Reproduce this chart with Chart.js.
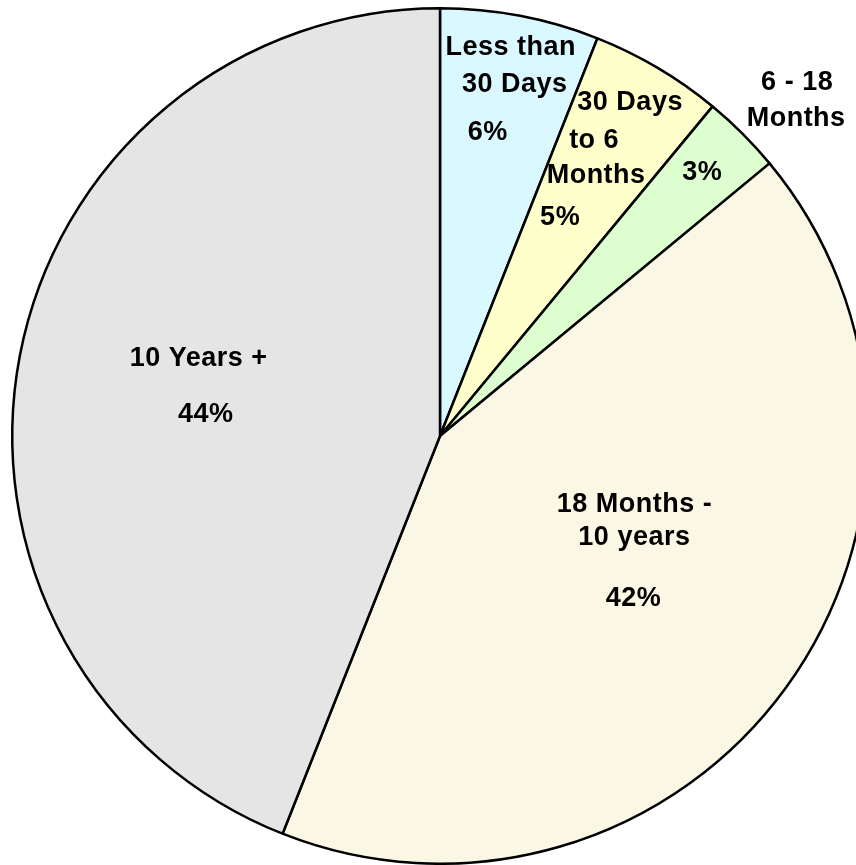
<!DOCTYPE html>
<html>
<head>
<meta charset="utf-8">
<script src="https://cdn.jsdelivr.net/npm/chart.js@4/dist/chart.umd.min.js"></script>
<style>
  html, body { margin: 0; padding: 0; background: #fff; overflow: hidden; }
  #wrap { width: 880px; height: 865px; }
</style>
</head>
<body>
<div id="wrap"><canvas id="myChart" width="880" height="865"></canvas></div>
<script>
  // categories, split into the lines they are printed on
  const categories = [
    ['Less than', '30 Days'],
    ['30 Days', 'to 6', 'Months'],
    ['6 - 18', 'Months'],
    ['18 Months -', '10 years'],
    ['10 Years +'],
  ];
  const shares = [6, 5, 3, 42, 44];
  const colors = ['#daf8ff', '#ffffcc', '#ddffd0', '#faf8e4', '#e5e5e5'];

  // where each label block sits: fraction of the radius along the slice middle,
  // then a [dx, dy] for every printed line (category lines first, then the %)
  const labelLayout = [
    { f: 0.82, lines: [[5, -44], [9, -7], [-18, 41]] },
    { f: 0.74, lines: [[29, -61], [-7, -23], [-5, 12], [-41, 54]] },
    { f: 0.87, lines: [[94, -90], [93, -54], [-1, 0]] },
    { f: 0.53, lines: [[11, -65], [11, -32], [10, 29]] },
    { f: 0.56, lines: [[-6, -33], [1, 23]] },
  ];

  const sliceLabels = {
    id: 'sliceLabels',
    afterDatasetsDraw(chart) {
      const ctx = chart.ctx;
      const meta = chart.getDatasetMeta(0);
      ctx.save();
      ctx.font = 'bold 27px "Liberation Sans", Arial, sans-serif';
      if ('letterSpacing' in ctx) ctx.letterSpacing = '0.5px';
      ctx.fillStyle = '#000';
      ctx.textAlign = 'center';
      ctx.textBaseline = 'middle';
      meta.data.forEach((arc, i) => {
        const p = arc.getProps(['x', 'y', 'startAngle', 'endAngle', 'outerRadius'], true);
        const mid = (p.startAngle + p.endAngle) / 2;
        const lay = labelLayout[i];
        const ax = p.x + Math.cos(mid) * p.outerRadius * lay.f;
        const ay = p.y + Math.sin(mid) * p.outerRadius * lay.f;
        const texts = categories[i].concat([shares[i] + '%']);
        texts.forEach((t, j) => {
          const off = lay.lines[j];
          ctx.fillText(t, ax + off[0], ay + off[1]);
        });
      });
      ctx.restore();
    }
  };

  const data = {
    labels: categories,
    datasets: [{
      data: shares,
      backgroundColor: colors,
      borderColor: '#000',
      borderWidth: 2.5,
    }]
  };

  const config = {
    type: 'pie',
    data,
    options: {
      responsive: false,
      animation: false,
      layout: { padding: { top: 7, bottom: 0, left: 0, right: 0 } },
      plugins: {
        legend: { display: false },
        tooltip: { enabled: false },
      }
    },
    plugins: [sliceLabels]
  };

  var myChart = new Chart(
    document.getElementById('myChart'),
    config
  );
</script>
</body>
</html>
